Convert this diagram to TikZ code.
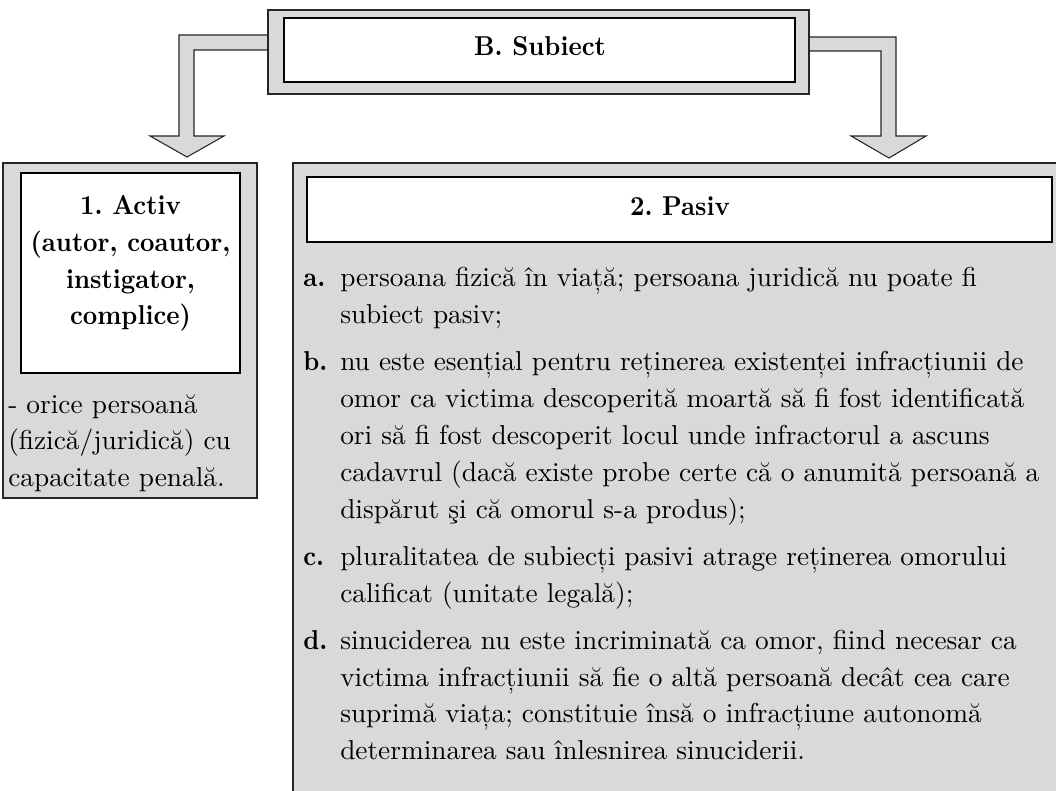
\documentclass[tikz,border=0pt]{standalone}
\usepackage{fontspec}
\setmainfont{lmroman10-regular.otf}[BoldFont=lmroman10-bold.otf]
\newfontfamily\boldlm{lmroman10-bold.otf}[FakeStretch=0.92]
\definecolor{boxgray}{RGB}{217,217,217}
\begin{document}
\frenchspacing
\begin{tikzpicture}[x=0.75pt,y=-0.75pt,
  outerbox/.style={fill=boxgray, draw=black!85, line width=0.8pt},
  innerbox/.style={fill=white, draw=black, line width=1.4pt},
  blockarrow/.style={fill=boxgray, draw=black!85, line width=0.8pt, line join=miter},
  txt/.style={inner sep=0pt, font=\fontsize{20.5}{27.675}\selectfont},
  btxt/.style={inner sep=0pt, font=\fontsize{20.5}{27.4}\selectfont\boldlm}]
\useasboundingbox (0,0) rectangle (1056,791);
\clip (0,0) rectangle (1056,791);
% block arrows
\coordinate (la0) at (268,35);
\coordinate (ra0) at (809,37);
\draw[blockarrow] (la0) -- (179,35) -- (179,136) -- (150,136) -- (187,157) -- (224,136) -- (194,136) -- (194,50) -- (268,50);
\draw[blockarrow] (ra0) -- (896,37) -- (896,136) -- (926,136) -- (889,158) -- (851,136) -- (881,136) -- (881,51) -- (809,51);
% boxes
\draw[outerbox] (268,10) rectangle (809,94);
\draw[innerbox] (284,18) rectangle (795,82);
\draw[outerbox] (3,163) rectangle (257,498);
\draw[innerbox] (21,173) rectangle (240,373);
\draw[outerbox] (293,163) rectangle (1070,805);
\draw[innerbox] (307,177) rectangle (1052,242);
% texts
\node[btxt, anchor=base] (subj) at (540,56) {B. Subiect};
\node[btxt, anchor=base] (pasiv) at (680,216) {2. Pasiv};
\node[btxt, anchor=base] (activ) at (130.5,215) {\begin{tabular}[t]{@{}c@{}}1. Activ\\(autor, coautor,\\instigator,\\complice)\end{tabular}};
\node[txt, anchor=base west] (activdesc) at (8,413) {\begin{tabular}[t]{@{}l@{}}- orice persoană\\(fizică/juridică) cu\\capacitate penală.\end{tabular}};
\node[btxt, anchor=base west] (lab-a) at (303,287) {a.};
\node[txt, anchor=base west] (item-a) at (340,287) {\begin{tabular}[t]{@{}l@{}}persoana fizică în viață; persoana juridică nu poate fi\\subiect pasiv;\end{tabular}};
\node[btxt, anchor=base west] (lab-b) at (303,370.8) {b.};
\node[txt, anchor=base west] (item-b) at (340,370.8) {\begin{tabular}[t]{@{}l@{}}nu este esențial pentru reținerea existenței infracțiunii de\\omor ca victima descoperită moartă să fi fost identificată\\ori să fi fost descoperit locul unde infractorul a ascuns\\cadavrul (dacă existe probe certe că o anumită persoană a\\dispărut şi că omorul s-a produs);\end{tabular}};
\node[btxt, anchor=base west] (lab-c) at (303,565.3) {c.};
\node[txt, anchor=base west] (item-c) at (340,565.3) {\begin{tabular}[t]{@{}l@{}}pluralitatea de subiecți pasivi atrage reținerea omorului\\calificat (unitate legală);\end{tabular}};
\node[btxt, anchor=base west] (lab-d) at (303,649.1) {d.};
\node[txt, anchor=base west] (item-d) at (340,649.1) {\begin{tabular}[t]{@{}l@{}}sinuciderea nu este incriminată ca omor, fiind necesar ca\\victima infracțiunii să fie o altă persoană decât cea care\\suprimă viața; constituie însă o infracțiune autonomă\\determinarea sau înlesnirea sinuciderii.\end{tabular}};
\end{tikzpicture}
\end{document}
